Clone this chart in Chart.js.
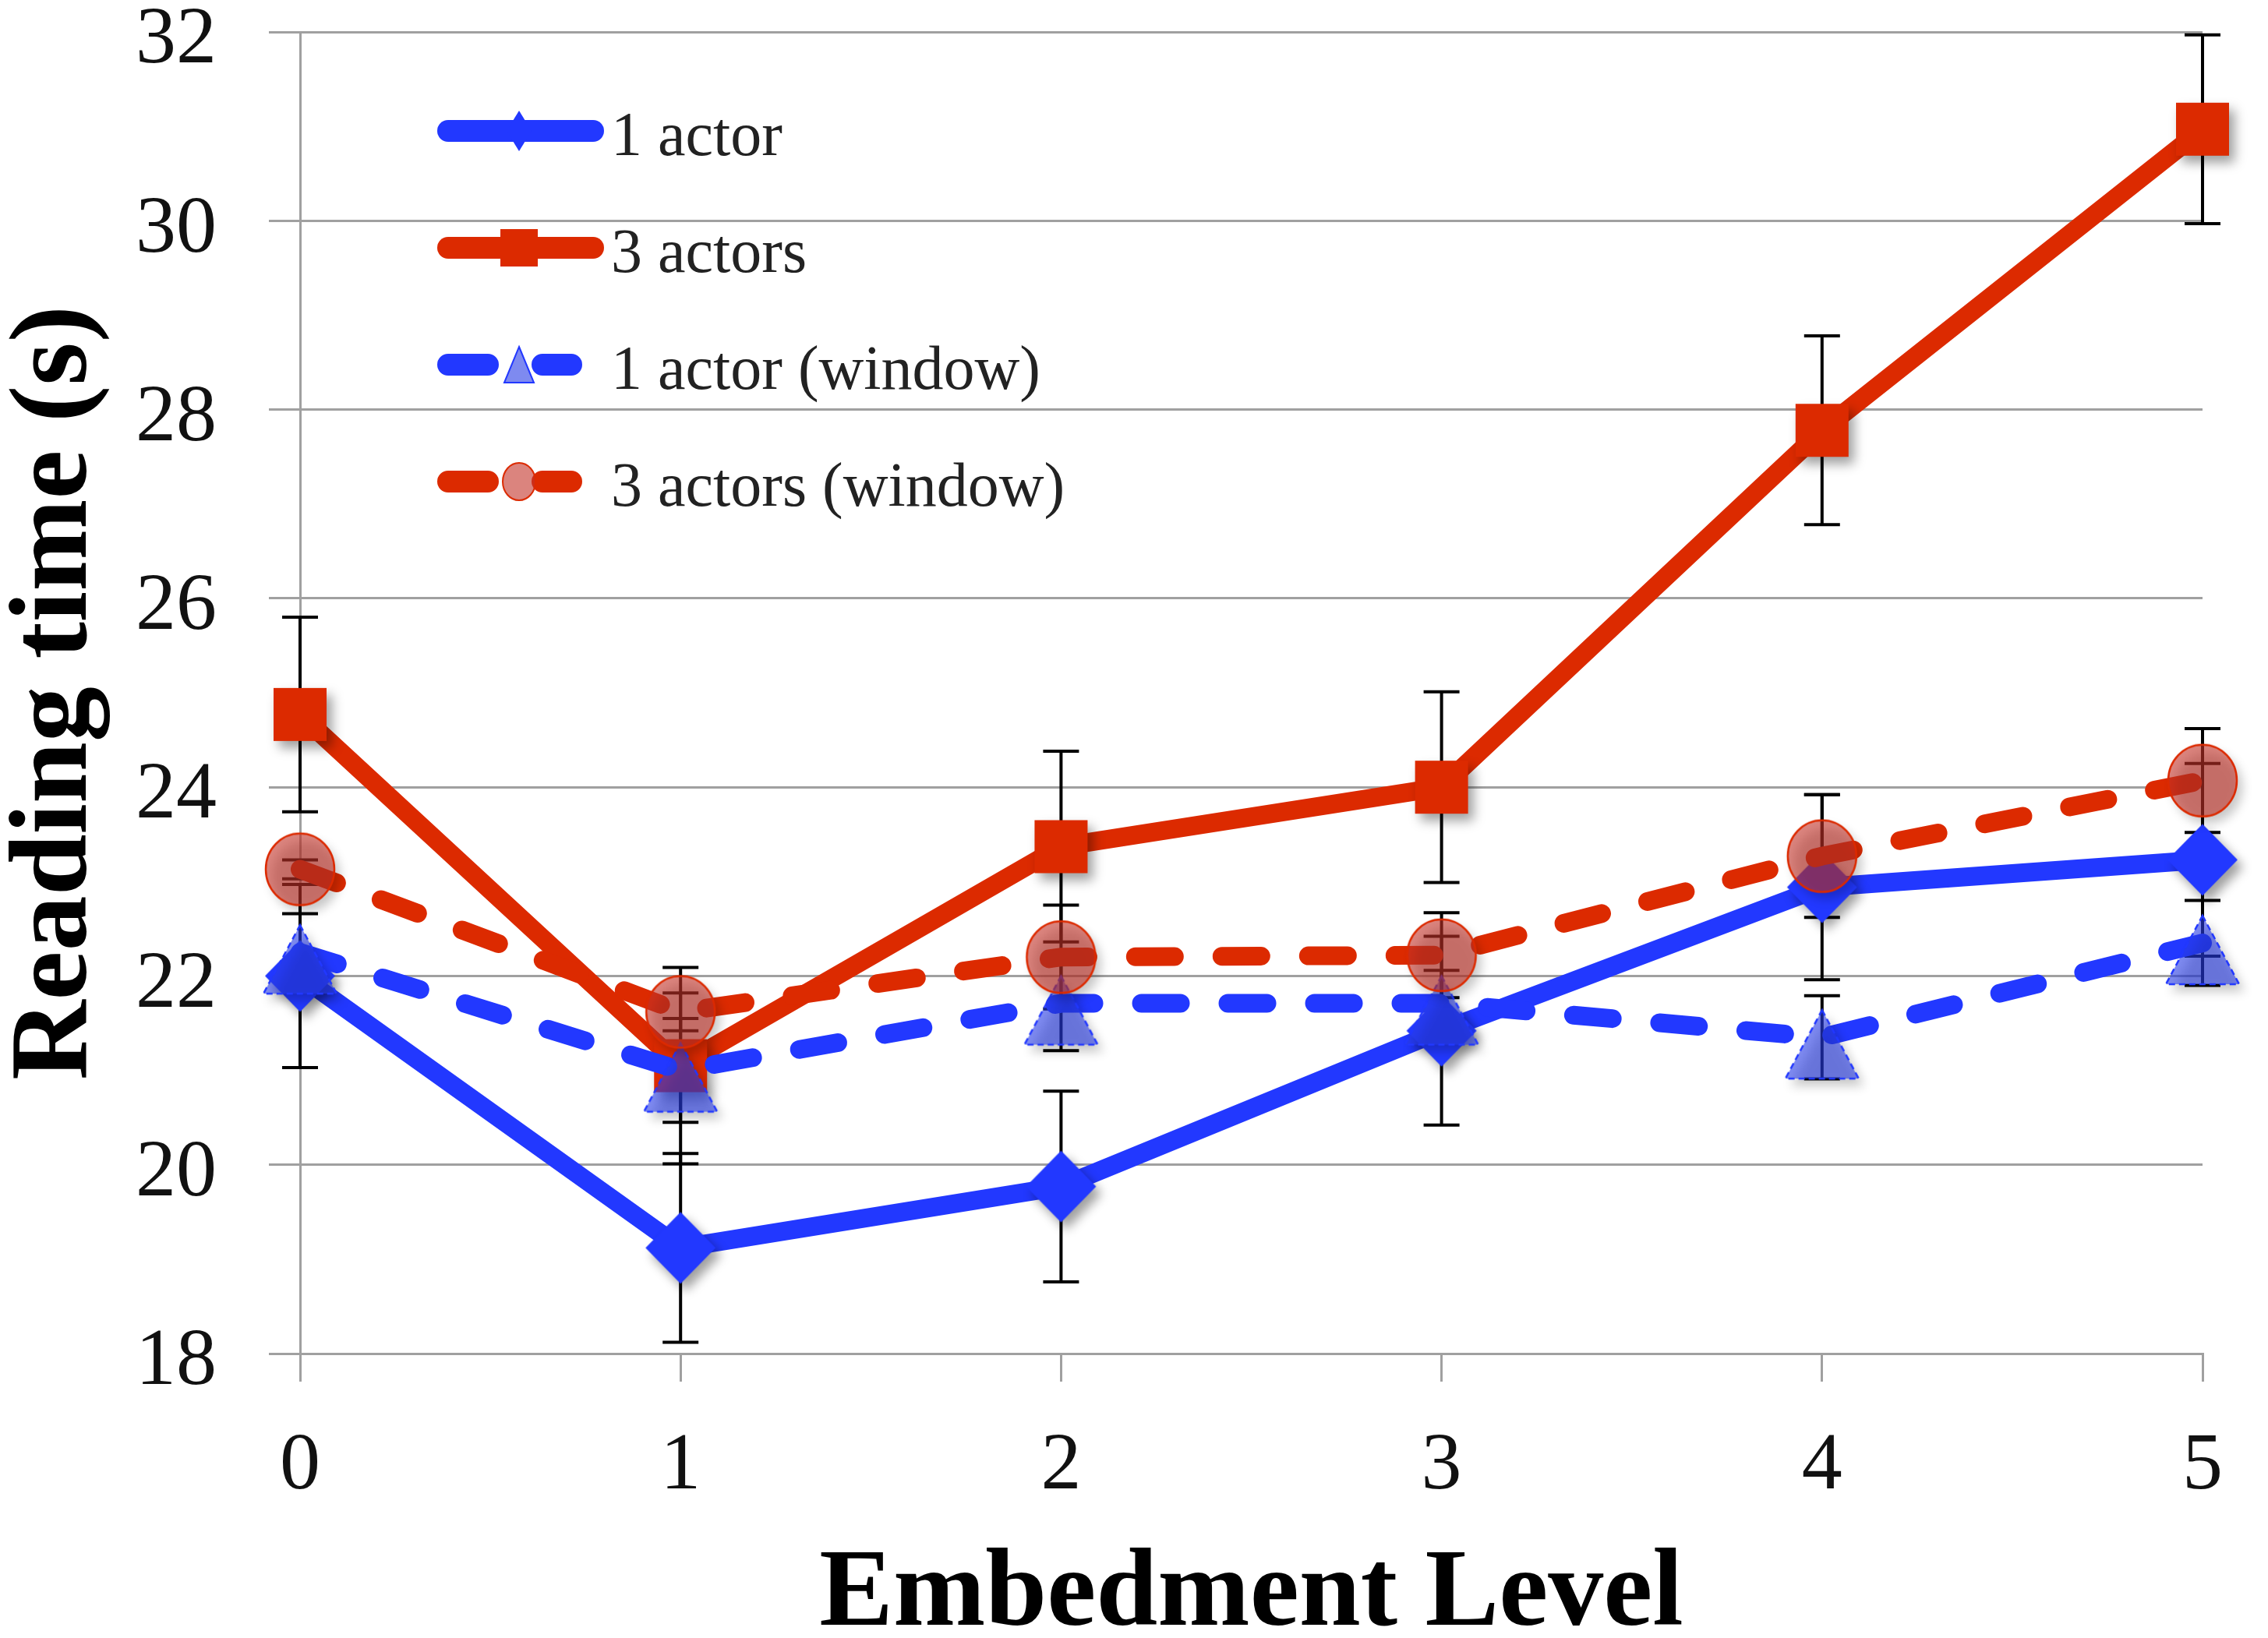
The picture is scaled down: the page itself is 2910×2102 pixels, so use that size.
<!DOCTYPE html>
<html><head><meta charset="utf-8">
<script src="https://cdn.jsdelivr.net/npm/chart.js@4.4.0/dist/chart.umd.min.js"></script>
<style>html,body{margin:0;padding:0;background:#fff;} canvas{display:block;}</style>
</head><body>
<canvas id="c" width="2910" height="2102" style="width:2910px;height:2102px"></canvas>
<script>
// ---- data ----
const levels = ['0', '1', '2', '3', '4', '5'];
const seriesNames = ['1 actor', '3 actors', '1 actor (window)', '3 actors (window)'];
const oneActor = [22.0, 19.12, 19.77, 21.42, 22.94, 23.23];
const oneActorErr = [0.97, 1.0, 1.01, 1.0, 0.98, 1.02];
const threeActors = [24.77, 21.05, 23.37, 24.0, 27.78, 30.97];
const threeActorsErr = [1.03, 1.04, 1.01, 1.01, 1.0, 1.0];
const oneActorWin = [22.25, 21.0, 21.71, 21.71, 21.35, 22.35];
const oneActorWinErr = [0.41, 0.55, 0.5, 0.35, 0.44, 0.45];
const threeActorsWin = [23.13, 21.62, 22.2, 22.22, 23.27, 24.07];
const threeActorsWinErr = [0.1, 0.2, 0.55, 0.45, 0.65, 0.55];
const yTicks = [18, 20, 22, 24, 26, 28, 30, 32];
const xTitle = 'Embedment Level';
const yTitle = 'Reading time (s)';

// ---- styles ----
const BLUE = '#2238ff';
const RED = '#dc2a00';
const BLUE_FILL = 'rgba(40,60,230,0.6)';
const RED_FILL = 'rgba(195,50,40,0.6)';
const GRID = '#a0a0a0';
const SERIF = "'Liberation Serif', 'Times New Roman', serif";

function shapePath(ctx, style, x, y, w, h) {
  ctx.beginPath();
  if (style === 'diamond') {
    ctx.moveTo(x, y - h / 2); ctx.lineTo(x + w / 2, y); ctx.lineTo(x, y + h / 2); ctx.lineTo(x - w / 2, y); ctx.closePath();
  } else if (style === 'square') {
    ctx.rect(x - w / 2, y - h / 2, w, h);
  } else if (style === 'triangle') {
    ctx.moveTo(x, y - h / 2); ctx.lineTo(x + w / 2, y + h / 2); ctx.lineTo(x - w / 2, y + h / 2); ctx.closePath();
  } else {
    ctx.ellipse(x, y, w / 2, h / 2, 0, 0, Math.PI * 2);
  }
}

// marker image with Excel-like drop shadow; dy shifts the shape inside the image
function makeMarker(style, w, h, fill, stroke, dashed, dy) {
  const pad = 44;
  const c = document.createElement('canvas');
  c.width = Math.ceil(w + 2 * pad); c.height = Math.ceil(h + 2 * pad);
  const ctx = c.getContext('2d');
  const cx = c.width / 2, cy = c.height / 2 + (dy || 0);
  ctx.save();
  ctx.shadowColor = 'rgba(0,0,0,0.38)';
  ctx.shadowBlur = 14; ctx.shadowOffsetX = 7; ctx.shadowOffsetY = 9;
  shapePath(ctx, style, cx, cy, w, h);
  ctx.fillStyle = fill; ctx.fill();
  ctx.restore();
  if (stroke) {
    shapePath(ctx, style, cx, cy, w, h);
    ctx.lineWidth = 2.5; ctx.strokeStyle = stroke;
    if (dashed) ctx.setLineDash([8, 5]);
    ctx.stroke();
  }
  return c;
}

const errorBars = {
  id: 'errorBars',
  beforeDatasetsDraw(chart) {
    const ctx = chart.ctx, xs = chart.scales.x, ys = chart.scales.y;
    ctx.save();
    ctx.strokeStyle = '#000';
    ctx.lineWidth = 4;
    chart.data.datasets.forEach(ds => {
      ds.data.forEach((v, i) => {
        const e = ds.errors[i];
        const x = xs.getPixelForValue(i);
        const y1 = ys.getPixelForValue(v + e), y2 = ys.getPixelForValue(v - e);
        ctx.beginPath();
        ctx.moveTo(x, y1); ctx.lineTo(x, y2);
        ctx.moveTo(x - 23, y1); ctx.lineTo(x + 23, y1);
        ctx.moveTo(x - 23, y2); ctx.lineTo(x + 23, y2);
        ctx.stroke();
      });
    });
    ctx.restore();
  }
};

const legendShapes = {
  diamond: [32, 52], square: [48, 48], triangle: [38, 46], circle: [42, 48]
};

const customLegend = {
  id: 'customLegend',
  afterDatasetsDraw(chart) {
    const ctx = chart.ctx, area = chart.chartArea;
    const x0 = area.left + 190, y0 = area.top + 127, step = 150;
    ctx.save();
    chart.data.datasets.forEach((d, i) => {
      const y = y0 + i * step;
      ctx.lineWidth = 28; ctx.lineCap = 'round'; ctx.strokeStyle = d.borderColor;
      ctx.setLineDash([]);
      ctx.beginPath();
      if (d.borderDash) {
        ctx.moveTo(x0, y); ctx.lineTo(x0 + 51, y);
        ctx.moveTo(x0 + 121, y); ctx.lineTo(x0 + 158, y);
      } else {
        ctx.moveTo(x0, y); ctx.lineTo(x0 + 186, y);
      }
      ctx.stroke();
      const sz = legendShapes[d.legendShape];
      shapePath(ctx, d.legendShape, x0 + 91, y, sz[0], sz[1]);
      ctx.fillStyle = d.legendFill; ctx.fill();
      if (d.borderDash) { ctx.lineWidth = 2; ctx.strokeStyle = d.borderColor; ctx.stroke(); }
      ctx.fillStyle = '#222';
      ctx.font = '80px ' + SERIF;
      ctx.textBaseline = 'alphabetic';
      ctx.textAlign = 'left';
      ctx.fillText(d.label, x0 + 209, y + 31);
    });
    ctx.restore();
  }
};

new Chart(document.getElementById('c').getContext('2d'), {
  type: 'line',
  data: {
    labels: levels,
    datasets: [
      { label: seriesNames[0], data: oneActor, errors: oneActorErr, borderColor: BLUE, backgroundColor: BLUE,
        borderWidth: 24, pointStyle: makeMarker('diamond', 90, 92, BLUE, null, false, 0), pointRadius: 45,
        legendShape: 'diamond', legendFill: BLUE, clip: false, order: 4, borderJoinStyle: 'round' },
      { label: seriesNames[1], data: threeActors, errors: threeActorsErr, borderColor: RED, backgroundColor: RED,
        borderWidth: 24, pointStyle: makeMarker('square', 68, 68, RED, null, false, 0), pointRadius: 45,
        legendShape: 'square', legendFill: RED, clip: false, order: 3, borderJoinStyle: 'round' },
      { label: seriesNames[2], data: oneActorWin, errors: oneActorWinErr, borderColor: BLUE, backgroundColor: BLUE_FILL,
        borderWidth: 24, borderDash: [50, 61], borderCapStyle: 'round',
        pointStyle: makeMarker('triangle', 94, 88, BLUE_FILL, BLUE, true, 9), pointRadius: 45,
        legendShape: 'triangle', legendFill: BLUE_FILL, clip: false, order: 2 },
      { label: seriesNames[3], data: threeActorsWin, errors: threeActorsWinErr, borderColor: RED, backgroundColor: RED_FILL,
        borderWidth: 24, borderDash: [50, 61], borderCapStyle: 'round',
        pointStyle: makeMarker('circle', 88, 92, RED_FILL, RED, false, 0), pointRadius: 45,
        legendShape: 'circle', legendFill: RED_FILL, clip: false, order: 1 }
    ]
  },
  options: {
    responsive: false,
    devicePixelRatio: 1,
    animation: false,
    layout: { autoPadding: false, padding: { top: 41, right: 84, bottom: 0, left: 0 } },
    plugins: { legend: { display: false }, tooltip: { enabled: false } },
    scales: {
      x: {
        type: 'category',
        offset: false,
        grid: { display: true, drawOnChartArea: false, drawTicks: true, tickLength: 36, color: GRID, lineWidth: 3 },
        border: { display: true, color: GRID, width: 3 },
        ticks: { font: { family: SERIF, size: 104 }, color: '#111', padding: 47, maxRotation: 0 },
        title: { display: true, text: xTitle, color: '#000',
          font: { family: SERIF, size: 142, weight: 'bold', lineHeight: 0.76 }, padding: { top: 0, bottom: 0 } },
        afterFit(s) { s.height = 365; s.paddingLeft = 0; s.paddingRight = 0; }
      },
      y: {
        min: 18, max: 32,
        afterBuildTicks(s) { s.ticks = yTicks.map(v => ({ value: v })); },
        grid: { color: GRID, lineWidth: 3, tickLength: 40, drawTicks: true },
        border: { display: true, color: GRID, width: 3 },
        ticks: { font: { family: SERIF, size: 104 }, color: '#111', padding: 67, labelOffset: 12 },
        title: { display: true, text: yTitle, color: '#000',
          font: { family: SERIF, size: 142, weight: 'bold', lineHeight: 1.0 }, padding: { top: 2, bottom: 0 } },
        afterFit(s) { s.width = 385; s.paddingTop = 0; s.paddingBottom = 0; }
      }
    }
  },
  plugins: [errorBars, customLegend]
});
</script>
</body></html>
